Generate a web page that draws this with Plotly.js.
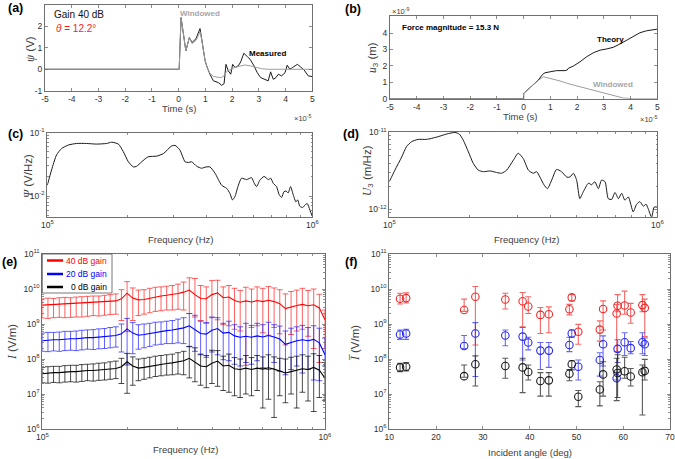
<!DOCTYPE html>
<html><head><meta charset="utf-8">
<script src="https://cdn.plot.ly/plotly-3.0.1.min.js"></script>
<style>html,body{margin:0;padding:0;background:#fff}#plot{width:675px;height:459px}</style>
</head><body><div id="plot"></div>
<script>
// ---------- (a) voltage signal, time in units of 1e-5 s ----------
const measuredT = [-5, 0.02, 0.09, 0.27, 0.4, 0.5, 0.65, 0.8, 0.86, 0.99, 1.07, 1.17, 1.3, 1.48, 1.61, 1.7, 1.77, 1.86, 1.95, 2.02, 2.11, 2.23, 2.32, 2.44, 2.57, 2.67, 2.82, 2.94, 3.07, 3.23, 3.35, 3.44, 3.54, 3.64, 3.73, 3.85, 3.98, 4.06, 4.16, 4.26, 4.44, 4.56, 4.69, 4.85, 5.0];
const measuredV = [0, 0, 2.41, 0.86, 1.48, 1.25, 1.43, 1.9, 1.43, 0.39, 0.08, -0.23, -0.54, -0.62, -0.75, -0.67, 0.23, -0.08, -0.23, 0.23, 0.08, 0.16, 0.34, 0.75, 0.59, 0.47, 0.16, -0.16, -0.39, -0.47, -0.54, -0.12, -0.47, -0.39, -0.23, -0.31, -0.16, 0.19, 0, 0.08, 0.23, 0.11, -0.03, -0.31, -0.34];
const windowedAT = [-5, 0.02, 0.09, 0.27, 0.4, 0.5, 0.65, 0.8, 0.86, 0.99, 1.07, 1.17, 1.3, 1.48, 1.61, 1.7, 1.8, 1.95, 2.1, 2.3, 2.5, 2.7, 2.9, 3.1, 3.3, 5.0];
const windowedAV = [0, 0, 2.41, 0.86, 1.48, 1.2, 1.35, 1.75, 1.4, 0.4, 0.08, -0.2, -0.33, -0.38, -0.38, -0.3, -0.1, 0.0, 0.08, 0.15, 0.2, 0.15, 0.08, 0.03, 0.0, 0.0];

// ---------- (b) displacement, units of 1e-9 m ----------
const theoryT = [-5, 0, 0, 0.17, 0.36, 0.55, 0.71, 0.8, 0.99, 1.23, 1.55, 1.63, 1.67, 1.86, 2.11, 2.36, 2.61, 2.86, 3.1, 3.35, 3.6, 3.85, 4.1, 4.35, 4.6, 5.0];
const theoryU = [0, 0, 0.32, 0.57, 0.83, 1.14, 1.48, 1.58, 1.64, 1.71, 1.71, 1.75, 1.85, 1.99, 2.25, 2.56, 2.8, 2.96, 3.03, 3.13, 3.33, 3.57, 3.82, 4.02, 4.14, 4.24];
const windowedBT = [-5, 0, 0, 0.17, 0.36, 0.55, 0.74, 0.99, 1.36, 1.73, 2.11, 2.48, 2.86, 3.23, 3.48, 3.73, 4.1, 5.0];
const windowedBU = [0, 0, 0.32, 0.57, 0.83, 1.12, 1.34, 1.24, 1.08, 0.89, 0.73, 0.57, 0.41, 0.22, 0.12, 0.04, 0.0, 0.0];

// ---------- (c) spectrum of voltage ----------
const freqC = [100000, 103750, 108400, 113200, 119950, 129100, 140600, 153500, 167500, 175000, 185400, 193600, 202300, 211300, 217300, 227000, 240400, 258800, 274200, 294400, 303400, 316200, 331100, 340400, 350800, 366400, 381900, 397200, 411100, 429500, 455000, 475300, 488700, 500000, 510500, 526000, 540800, 564900, 590200, 602600, 616600, 633900, 657700, 682300, 696600, 712900, 732800, 749900, 765600, 781600, 796200, 810900, 827900, 847200, 867000, 881000, 897400, 920400, 937600, 957100, 979500, 1000000];
const psiSpec = [0.0148, 0.0257, 0.0447, 0.0562, 0.0638, 0.0676, 0.0676, 0.0661, 0.0676, 0.0708, 0.0661, 0.0501, 0.0347, 0.0288, 0.0295, 0.0347, 0.0417, 0.0427, 0.0468, 0.0617, 0.0631, 0.0537, 0.0347, 0.0339, 0.0347, 0.0295, 0.0275, 0.0288, 0.0288, 0.0229, 0.0148, 0.0132, 0.0110, 0.0087, 0.0098, 0.0148, 0.0191, 0.0182, 0.0195, 0.0162, 0.0141, 0.0178, 0.0204, 0.0182, 0.0191, 0.0158, 0.0141, 0.0105, 0.0095, 0.0117, 0.0120, 0.0112, 0.0141, 0.0105, 0.0081, 0.0087, 0.0069, 0.0066, 0.0072, 0.0076, 0.0060, 0.0048];

// ---------- (d) spectrum of displacement ----------
const freqD = [100000, 104950, 111200, 116100, 121100, 128200, 137700, 150300, 163700, 175800, 182400, 188800, 197200, 205600, 214800, 224400, 237700, 251200, 262400, 274200, 290400, 302700, 316200, 330400, 344400, 354800, 364800, 377600, 389000, 403600, 420700, 439500, 459200, 472100, 486400, 500000, 514000, 529700, 553400, 568900, 584800, 602600, 619400, 638300, 656100, 676100, 695000, 716100, 736200, 756800, 779800, 812800, 837500, 861000, 887200, 907800, 924700, 952800, 972800, 1000000];
const uSpec = [2.29e-12, 3.24e-12, 4.79e-12, 6.61e-12, 7.59e-12, 8.13e-12, 8.13e-12, 8.71e-12, 9.55e-12, 1.0e-11, 9.55e-12, 7.94e-12, 5.62e-12, 3.98e-12, 3.24e-12, 3.09e-12, 3.16e-12, 3.02e-12, 2.95e-12, 3.24e-12, 4.37e-12, 5.37e-12, 4.57e-12, 3.24e-12, 2.95e-12, 3.09e-12, 2.63e-12, 2.09e-12, 1.86e-12, 2.40e-12, 3.31e-12, 3.09e-12, 2.63e-12, 2.63e-12, 2.95e-12, 2.40e-12, 1.38e-12, 1.70e-12, 2.19e-12, 2.09e-12, 2.29e-12, 1.86e-12, 2.40e-12, 2.29e-12, 1.38e-12, 1.35e-12, 1.66e-12, 1.38e-12, 1.62e-12, 1.32e-12, 1.45e-12, 9.3e-13, 1.17e-12, 1.26e-12, 1.10e-12, 1.17e-12, 1.02e-12, 7.9e-13, 1.07e-12, 1.07e-12];

// ---------- (e) sensitivity vs frequency (log10 of V/m) ----------
const freqE = [100000, 104700, 109600, 114800, 120200, 125900, 131800, 138000, 144500, 151400, 158500, 166000, 173800, 182000, 190500, 199500, 208900, 218800, 229100, 239900, 251200, 263000, 275400, 288400, 302000, 316200, 331100, 346700, 363100, 380200, 398100, 416900, 436500, 457100, 478600, 501200, 524800, 549500, 575400, 602600, 631000, 660700, 691800, 724400, 758600, 794300, 831800, 871000, 912000, 955000, 1000000];
const g40MeanLog = [9.54, 9.55, 9.56, 9.57, 9.57, 9.58, 9.59, 9.59, 9.61, 9.62, 9.62, 9.63, 9.65, 9.66, 9.72, 9.88, 9.74, 9.69, 9.70, 9.74, 9.78, 9.80, 9.82, 9.84, 9.87, 9.91, 9.97, 9.84, 9.73, 9.72, 9.84, 9.89, 9.75, 9.77, 9.67, 9.62, 9.66, 9.63, 9.67, 9.64, 9.68, 9.64, 9.58, 9.44, 9.49, 9.53, 9.56, 9.52, 9.55, 9.46, 9.12];
const g40UpLog = [9.72, 9.74, 9.73, 9.75, 9.76, 9.75, 9.77, 9.78, 9.79, 9.80, 9.80, 9.82, 9.84, 9.86, 9.98, 10.21, 10.03, 9.97, 9.98, 10.02, 10.05, 10.06, 10.08, 10.10, 10.14, 10.20, 10.32, 10.30, 10.10, 10.06, 10.24, 10.25, 10.06, 10.10, 10.02, 9.96, 10.05, 10.00, 10.06, 10.02, 10.07, 10.03, 9.98, 9.86, 9.93, 9.97, 10.02, 9.96, 10.00, 9.85, 9.40];
const g40LoLog = [9.17, 9.16, 9.18, 9.19, 9.18, 9.19, 9.20, 9.20, 9.22, 9.24, 9.23, 9.25, 9.27, 9.28, 9.10, 8.78, 9.10, 9.24, 9.28, 9.32, 9.36, 9.38, 9.40, 9.40, 9.42, 9.40, 9.30, 9.20, 9.10, 9.02, 9.18, 9.12, 8.98, 8.95, 8.85, 8.80, 7.82, 8.90, 8.95, 8.75, 8.68, 8.90, 8.72, 8.40, 8.70, 8.80, 8.85, 8.65, 8.30, 7.90, 8.30];
const g20MeanLog = [8.52, 8.54, 8.55, 8.55, 8.57, 8.58, 8.58, 8.60, 8.61, 8.61, 8.63, 8.64, 8.66, 8.67, 8.72, 8.86, 8.74, 8.68, 8.70, 8.73, 8.77, 8.79, 8.81, 8.83, 8.86, 8.89, 8.95, 8.83, 8.73, 8.71, 8.82, 8.87, 8.74, 8.76, 8.66, 8.62, 8.65, 8.62, 8.66, 8.63, 8.67, 8.63, 8.57, 8.42, 8.48, 8.52, 8.55, 8.52, 8.56, 8.46, 8.12];
const g20UpLog = [8.74, 8.76, 8.76, 8.77, 8.79, 8.79, 8.80, 8.82, 8.83, 8.84, 8.86, 8.87, 8.90, 8.92, 9.00, 9.16, 9.04, 8.98, 9.00, 9.02, 9.05, 9.06, 9.08, 9.10, 9.14, 9.18, 9.30, 9.25, 9.08, 9.04, 9.20, 9.18, 9.02, 9.08, 8.98, 8.92, 9.02, 8.96, 9.02, 8.98, 9.05, 8.98, 8.94, 8.80, 8.88, 8.92, 8.96, 8.90, 8.95, 8.88, 8.60];
const g20LoLog = [8.22, 8.21, 8.23, 8.22, 8.24, 8.25, 8.24, 8.26, 8.28, 8.27, 8.29, 8.30, 8.32, 8.34, 8.20, 7.83, 8.15, 8.28, 8.32, 8.36, 8.40, 8.42, 8.44, 8.44, 8.46, 8.44, 8.35, 8.22, 8.12, 8.05, 8.20, 8.12, 7.98, 7.95, 7.85, 7.80, 7.90, 7.85, 7.95, 7.75, 7.70, 7.90, 7.65, 7.55, 7.70, 7.80, 7.60, 7.70, 7.40, 7.38, 7.80];
const g0MeanLog = [7.58, 7.60, 7.61, 7.61, 7.63, 7.64, 7.64, 7.66, 7.67, 7.67, 7.69, 7.70, 7.72, 7.73, 7.78, 7.92, 7.80, 7.74, 7.76, 7.79, 7.83, 7.85, 7.87, 7.89, 7.92, 7.95, 8.02, 7.90, 7.80, 7.78, 7.88, 7.94, 7.80, 7.82, 7.72, 7.70, 7.74, 7.70, 7.74, 7.71, 7.75, 7.71, 7.66, 7.60, 7.64, 7.68, 7.72, 7.70, 7.76, 7.68, 7.45];
const g0UpLog = [7.76, 7.78, 7.79, 7.79, 7.81, 7.82, 7.82, 7.84, 7.85, 7.86, 7.88, 7.89, 7.92, 7.94, 8.02, 8.16, 8.06, 8.00, 8.02, 8.05, 8.08, 8.10, 8.12, 8.14, 8.18, 8.22, 8.36, 8.32, 8.14, 8.10, 8.25, 8.24, 8.08, 8.14, 8.04, 8.00, 8.10, 8.04, 8.10, 8.06, 8.12, 8.06, 8.02, 8.00, 8.05, 8.08, 8.12, 8.08, 8.15, 8.10, 7.90];
const g0LoLog = [7.32, 7.31, 7.33, 7.32, 7.34, 7.35, 7.34, 7.36, 7.38, 7.37, 7.39, 7.40, 7.42, 7.44, 7.30, 7.02, 7.25, 7.38, 7.42, 7.46, 7.50, 7.52, 7.54, 7.55, 7.57, 7.55, 7.46, 7.35, 7.25, 7.18, 7.30, 7.22, 7.10, 7.05, 6.95, 6.90, 7.00, 6.95, 7.10, 6.60, 6.85, 6.33, 6.95, 6.75, 7.00, 6.60, 7.05, 6.80, 6.50, 6.90, 6.82];

// ---------- (f) mean sensitivity vs incident angle (log10 of V/m) ----------
const angles = [12.3, 13.6, 26.0, 28.4, 34.8, 38.5, 39.7, 42.3, 44.1, 48.5, 49.0, 50.4, 55.0, 55.7, 58.6, 58.8, 60.3, 61.6, 64.1, 64.6];
const a40MeanLog = [9.72, 9.74, 9.40, 9.78, 9.70, 9.65, 9.50, 9.26, 9.28, 9.42, 9.76, 8.78, 8.84, 9.43, 9.30, 9.52, 9.53, 9.33, 9.54, 9.46];
const a40UpLog = [9.88, 9.89, 9.71, 10.07, 9.88, 9.90, 9.78, 9.47, 9.49, 9.56, 9.84, 8.99, 9.09, 9.66, 9.56, 9.84, 9.94, 9.59, 9.84, 9.71];
const a40LoLog = [9.57, 9.60, 9.36, 8.40, 9.43, 8.92, 9.30, 8.73, 8.75, 9.26, 9.66, 8.42, 8.51, 8.83, 8.21, 9.35, 9.28, 9.02, 9.35, 8.64];
const a20MeanLog = [8.70, 8.73, 8.37, 8.73, 8.67, 8.64, 8.47, 8.24, 8.24, 8.40, 8.73, 7.78, 7.97, 8.42, 7.45, 8.29, 8.48, 8.31, 8.48, 8.42];
const a20UpLog = [8.83, 8.85, 8.67, 9.04, 8.83, 8.90, 8.62, 8.47, 8.47, 8.62, 8.83, 7.97, 8.18, 8.66, 7.62, 8.55, 8.75, 8.50, 8.75, 8.60];
const a20LoLog = [8.56, 8.56, 8.30, 7.50, 8.38, 7.97, 8.26, 7.70, 7.76, 8.21, 8.62, 7.40, 7.51, 7.80, 7.40, 7.90, 8.10, 8.15, 8.15, 8.10];
const a0MeanLog = [7.76, 7.78, 7.51, 7.85, 7.80, 7.76, 7.63, 7.37, 7.39, 7.58, 7.85, 6.92, 7.13, 7.56, 7.70, 7.60, 7.65, 7.50, 7.62, 7.66];
const a0UpLog = [7.88, 7.90, 7.83, 8.09, 8.02, 8.02, 7.83, 7.61, 7.61, 7.70, 7.95, 7.10, 7.35, 7.92, 8.02, 8.12, 8.05, 7.73, 7.83, 7.99];
const a0LoLog = [7.64, 7.66, 7.48, 7.23, 7.45, 7.04, 7.40, 6.94, 6.94, 7.38, 7.69, 6.64, 6.66, 6.94, 6.81, 6.90, 7.45, 7.23, 6.40, 7.40];

const timeTicks = [-5, -4, -3, -2, -1, 0, 1, 2, 3, 4, 5];
const timeTickText = ['-5', '-4', '-3', '-2', '-1', '0', '1', '2', '3', '4', '5'];

// ---------------------------------------------------------------
const W = 675, H = 459;
const FONT = '"Liberation Sans", Arial, sans-serif';
const px = X => X / W, py = Y => 1 - Y / H;
const AX = '#707070';

function base(extra) {
  return Object.assign({
    showline: true, linecolor: AX, linewidth: 1, mirror: 'ticks',
    ticks: 'inside', ticklen: 3, tickcolor: AX, tickwidth: 0.8,
    showgrid: false, zeroline: false, fixedrange: true,
    tickfont: {family: FONT, size: 8.5, color: '#303030'}
  }, extra);
}
function minorTicks(lo, hi) {
  const t = [];
  for (let e = lo; e < hi; e++) for (let m = 2; m <= 9; m++) t.push(m * Math.pow(10, e));
  return t;
}
function pow10Labels(lo, hi) {
  const v = [], t = [];
  for (let e = lo; e <= hi; e++) { v.push(Math.pow(10, e)); t.push('10<sup>' + (e < 0 ? '-' + (-e) : e) + '</sup>'); }
  return {v, t};
}
function logAxis(lo, hi, range, dom, anchor, mlo, mhi) {
  const L = pow10Labels(lo, hi);
  return base({type: 'log', range: range, domain: dom, anchor: anchor,
    tickmode: 'array', tickvals: L.v, ticktext: L.t,
    minor: {tickmode: 'array', tickvals: minorTicks(mlo, mhi), ticks: 'inside', ticklen: 1.8, tickcolor: AX, showgrid: false}});
}
function errBars(m, u, l) {
  return {
    y: m.map(v => Math.pow(10, v)),
    up: m.map((v, i) => Math.pow(10, u[i]) - Math.pow(10, v)),
    dn: m.map((v, i) => Math.pow(10, v) - Math.pow(10, l[i]))
  };
}

const traces = [];
// (a)
traces.push({x: measuredT, y: measuredV, xaxis: 'x', yaxis: 'y', mode: 'lines', line: {color: '#1a1a1a', width: 1}, hoverinfo: 'skip'});
traces.push({x: windowedAT, y: windowedAV, xaxis: 'x', yaxis: 'y', mode: 'lines', line: {color: '#9c9c9c', width: 1}, hoverinfo: 'skip'});
// (b)
traces.push({x: theoryT, y: theoryU, xaxis: 'x2', yaxis: 'y2', mode: 'lines', line: {color: '#1a1a1a', width: 1}, hoverinfo: 'skip'});
traces.push({x: windowedBT, y: windowedBU, xaxis: 'x2', yaxis: 'y2', mode: 'lines', line: {color: '#9c9c9c', width: 1}, hoverinfo: 'skip'});
// (c)
traces.push({x: freqC, y: psiSpec, xaxis: 'x3', yaxis: 'y3', mode: 'lines', line: {color: '#1a1a1a', width: 1, shape: 'spline', smoothing: 0.6}, hoverinfo: 'skip'});
// (d)
traces.push({x: freqD, y: uSpec, xaxis: 'x4', yaxis: 'y4', mode: 'lines', line: {color: '#1a1a1a', width: 1, shape: 'spline', smoothing: 0.6}, hoverinfo: 'skip'});
// (e)
const eSeries = [
  [g40MeanLog, g40UpLog, g40LoLog, '#ff0000', 'rgba(255,30,30,0.7)'],
  [g20MeanLog, g20UpLog, g20LoLog, '#0000ff', 'rgba(30,30,255,0.7)'],
  [g0MeanLog, g0UpLog, g0LoLog, '#000000', 'rgba(0,0,0,0.7)']
];
eSeries.forEach(s => {
  const e = errBars(s[0], s[1], s[2]);
  traces.push({x: freqE, y: e.y, xaxis: 'x5', yaxis: 'y5', mode: 'lines',
    line: {color: s[3], width: 1.1},
    error_y: {type: 'data', symmetric: false, array: e.up, arrayminus: e.dn, color: s[4], thickness: 1, width: 2.9},
    hoverinfo: 'skip'});
});
// (f)
const fSeries = [
  [a40MeanLog, a40UpLog, a40LoLog, '#f02828', 'rgba(240,40,40,0.7)'],
  [a20MeanLog, a20UpLog, a20LoLog, '#2828f0', 'rgba(40,40,240,0.7)'],
  [a0MeanLog, a0UpLog, a0LoLog, '#1a1a1a', 'rgba(20,20,20,0.7)']
];
fSeries.forEach(s => {
  const e = errBars(s[0], s[1], s[2]);
  traces.push({x: angles, y: e.y, xaxis: 'x6', yaxis: 'y6', mode: 'markers',
    marker: {symbol: 'circle-open', size: 7.5, color: s[3], line: {width: 1.1, color: s[3]}},
    error_y: {type: 'data', symmetric: false, array: e.up, arrayminus: e.dn, color: s[4], thickness: 1.1, width: 3},
    hoverinfo: 'skip'});
});

function ann(X, Y, text, size, o) {
  return Object.assign({xref: 'paper', yref: 'paper', x: px(X), y: py(Y), text: text, showarrow: false,
    xanchor: 'center', yanchor: 'middle'}, o || {},
    {font: {family: FONT, size: size, color: (o && o.color) || '#000'}});
}
const TC = '#404040';
const SER = '<span style="font-family:Liberation Serif">';
const annotations = [
  ann(15, 8, '<b>(a)</b>', 12.5), ann(353, 9, '<b>(b)</b>', 12.5),
  ann(15, 134, '<b>(c)</b>', 12.5), ann(351, 134, '<b>(d)</b>', 12.5),
  ann(9, 262, '<b>(e)</b>', 12.5), ann(352, 262, '<b>(f)</b>', 12.5),
  // (a)
  ann(179, 109, 'Time (s)', 9.5, {color: TC}),
  ann(302, 118, '×10<sup>-5</sup>', 7.5, {color: TC}),
  ann(31, 49, SER + '<i>ψ</i></span> (V)', 11.5, {color: TC, textangle: -90}),
  ann(52, 15, 'Gain 40 dB', 10, {xanchor: 'left', color: '#111'}),
  ann(54, 29, '<i>θ</i> = 12.2°', 10, {xanchor: 'left', color: '#ff1a1a'}),
  ann(200, 13, '<b>Windowed</b>', 8, {color: '#a6a6a6'}),
  ann(267, 53, '<b>Measured</b>', 8, {color: '#000'}),
  // (b)
  ann(520, 117, 'Time (s)', 9.5, {color: TC}),
  ann(648, 119, '×10<sup>-5</sup>', 7.5, {color: TC}),
  ann(400, 11, '×10<sup>-9</sup>', 7.5, {color: TC}),
  ann(373, 58, SER + '<i>u</i></span><sub>3</sub> (m)', 11.5, {color: TC, textangle: -90}),
  ann(400, 27, '<b>Force magnitude = 15.3 N</b>', 8, {xanchor: 'left'}),
  ann(610, 39, '<b>Theory</b>', 8),
  ann(613, 84, '<b>Windowed</b>', 8, {color: '#a6a6a6'}),
  // (c)
  ann(180, 239, 'Frequency (Hz)', 9.5, {color: TC}),
  ann(28, 176, SER + '<i>Ψ</i></span> (V/Hz)', 11.5, {color: TC, textangle: -90}),
  // (d)
  ann(526, 239, 'Frequency (Hz)', 9.5, {color: TC}),
  ann(368, 171, SER + '<i>U</i></span><sub>3</sub> (m/Hz)', 11.5, {color: TC, textangle: -90}),
  // (e)
  ann(185, 449, 'Frequency (Hz)', 9.5, {color: TC}),
  ann(12, 342, SER + '<i>I</i></span> (V/m)', 11.5, {color: TC, textangle: -90}),
  ann(109, 260.5, '40 dB gain', 8.5, {xanchor: 'right', color: '#ff0000'}),
  ann(109, 274, '20 dB gain', 8.5, {xanchor: 'right', color: '#0000ff'}),
  ann(109, 287, '0 dB gain', 8.5, {xanchor: 'right', color: '#000'}),
  // (f)
  ann(530, 452, 'Incident angle (deg)', 9.5, {color: TC}),
  ann(355, 343, SER + '<i>I\u0305</i></span> (V/m)', 11.5, {color: TC, textangle: -90})
];

const shapes = [
  {type: 'rect', xref: 'paper', yref: 'paper', x0: px(42.3), x1: px(112), y0: py(293), y1: py(254), fillcolor: '#fff', line: {color: '#555', width: 0.8}},
  {type: 'line', xref: 'paper', yref: 'paper', x0: px(47), x1: px(63), y0: py(260.5), y1: py(260.5), line: {color: '#ff0000', width: 2.5}},
  {type: 'line', xref: 'paper', yref: 'paper', x0: px(47), x1: px(63), y0: py(274), y1: py(274), line: {color: '#0000ff', width: 2.5}},
  {type: 'line', xref: 'paper', yref: 'paper', x0: px(47), x1: px(63), y0: py(287), y1: py(287), line: {color: '#000', width: 2.5}}
];

const layout = {
  width: W, height: H, margin: {l: 0, r: 0, t: 0, b: 0}, showlegend: false,
  paper_bgcolor: '#fff', plot_bgcolor: '#fff', font: {family: FONT},
  xaxis: base({domain: [px(45), px(312.3)], range: [-5, 5], anchor: 'y', tickmode: 'array', tickvals: timeTicks, ticktext: timeTickText}),
  yaxis: base({domain: [py(90.7), py(5)], range: [-1, 3], anchor: 'x', tickmode: 'array', tickvals: [-1, 0, 1, 2, 3], ticktext: ['-1', '0', '1', '2', '3']}),
  xaxis2: base({domain: [px(390), px(657.3)], range: [-5, 5], anchor: 'y2', tickmode: 'array', tickvals: timeTicks, ticktext: timeTickText}),
  yaxis2: base({domain: [py(98.7), py(16)], range: [0, 5.04], anchor: 'x2', tickmode: 'array', tickvals: [0, 1, 2, 3, 4], ticktext: ['0', '1', '2', '3', '4']}),
  xaxis3: logAxis(5, 6, [5, 6], [px(47.3), px(312.3)], 'y3', 5, 6),
  yaxis3: logAxis(-2, -1, [-2.326, -1], [py(216.7), py(132.7)], 'x3', -3, -1),
  xaxis4: logAxis(5, 6, [5, 6], [px(389.3), px(657.3)], 'y4', 5, 6),
  yaxis4: logAxis(-12, -11, [-12.095, -10.99], [py(216.7), py(131.7)], 'x4', -13, -11),
  xaxis5: logAxis(5, 6, [5, 6], [px(42.3), px(325)], 'y5', 5, 6),
  yaxis5: logAxis(6, 11, [6, 11], [py(429), py(254)], 'x5', 6, 11),
  xaxis6: base({domain: [px(389.3), px(670)], range: [10, 70], anchor: 'y6', tickmode: 'array', tickvals: [10, 20, 30, 40, 50, 60, 70]}),
  yaxis6: logAxis(6, 11, [6, 11], [py(429), py(254)], 'x6', 6, 11),
  annotations: annotations,
  shapes: shapes
};

Plotly.newPlot('plot', traces, layout, {staticPlot: true, displayModeBar: false});
</script></body></html>
